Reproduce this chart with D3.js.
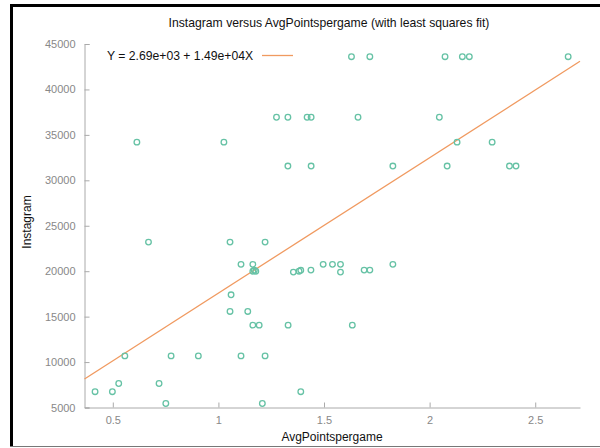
<!DOCTYPE html>
<html>
<head>
<meta charset="utf-8">
<script src="https://cdn.jsdelivr.net/npm/d3@7"></script>
<style>
  body { margin: 0; background: #fff; }
  svg { font-family: "Liberation Sans", Arial, sans-serif; }
  .axis path, .axis line { stroke: #aaa; }
  .axis text { fill: #888; font-size: 11px; }
</style>
</head>
<body>
<script>
// 資料：AvgPointspergame 與 Instagram
const avgPoints = [
  0.416, 0.498, 0.528, 0.557, 0.614, 0.669, 0.719, 0.751, 0.776, 0.905,
  1.026, 1.055, 1.055, 1.060, 1.107, 1.107, 1.139, 1.163, 1.163, 1.163,
  1.170, 1.177, 1.193, 1.208, 1.221, 1.221, 1.275, 1.329, 1.329, 1.330,
  1.355, 1.382, 1.390, 1.390, 1.420, 1.439, 1.439, 1.438, 1.496, 1.540,
  1.578, 1.578, 1.630, 1.634, 1.661, 1.690, 1.717, 1.717, 1.826, 1.826,
  2.046, 2.073, 2.083, 2.130, 2.155, 2.188, 2.296, 2.378, 2.409, 2.656
];
const instagram = [
  6740, 6740, 7640, 10680, 34200, 23200, 7640, 5440, 10680, 10680,
  34200, 23200, 15570, 17400, 20750, 10680, 15570, 20750, 14060, 20000,
  20100, 20000, 14060, 5440, 23200, 10680, 36940, 36940, 31570, 14060,
  19900, 20000, 20100, 6740, 36940, 36940, 31570, 20120, 20750, 20750,
  20750, 19900, 43600, 14060, 36940, 20120, 20120, 43600, 31570, 20750,
  36940, 43600, 31570, 34200, 43600, 43600, 34200, 31570, 31570, 43600
];

// 最小平方法係數
const fitA = 2.69e3, fitB = 1.49e4;
const fitLabel = "Y = 2.69e+03 + 1.49e+04X";

const xTicks = [0.5, 1, 1.5, 2, 2.5];
const yTicks = [5000, 10000, 15000, 20000, 25000, 30000, 35000, 40000, 45000];

const W = 600, H = 448;
const margin = { top: 44, right: 20, bottom: 41, left: 84.5 };
const width = 580 - margin.left, height = 407.5 - margin.top;

const svg = d3.select("body").append("svg")
  .attr("width", W).attr("height", H);

// 外框
svg.append("line").attr("x1", 10).attr("x2", W).attr("y1", 5.5).attr("y2", 5.5)
  .attr("stroke", "#000").attr("stroke-width", 3);
svg.append("line").attr("x1", 11.5).attr("x2", 11.5).attr("y1", 4).attr("y2", 446)
  .attr("stroke", "#000").attr("stroke-width", 3);
svg.append("line").attr("x1", 10).attr("x2", W).attr("y1", 446.5).attr("y2", 446.5)
  .attr("stroke", "#777").attr("stroke-width", 1);

const g = svg.append("g")
  .attr("transform", "translate(" + margin.left + "," + margin.top + ")");

const x = d3.scaleLinear().domain([0.366, 2.712]).range([0, width]);
const y = d3.scaleLinear().domain([5000, 45000]).range([height, 0]);

// 座標軸（刻度朝內）
g.append("g")
  .attr("class", "axis")
  .attr("transform", "translate(0," + height + ")")
  .call(d3.axisBottom(x).tickValues(xTicks).tickFormat(d3.format("")).tickSizeInner(-5).tickSizeOuter(0).tickPadding(9));
g.append("g")
  .attr("class", "axis")
  .call(d3.axisLeft(y).tickValues(yTicks).tickFormat(d3.format("d")).tickSizeInner(-5).tickSizeOuter(-5).tickPadding(9));

// 擬合線
const line = d3.line().x(d => x(d)).y(d => y(fitA + fitB * d));
g.append("path")
  .attr("d", line(x.domain()))
  .attr("fill", "none")
  .attr("stroke", "#f09a60")
  .attr("stroke-width", 1.3);

// 散點
g.selectAll("circle.pt")
  .data(avgPoints.map((v, i) => [v, instagram[i]]))
  .join("circle")
  .attr("class", "pt")
  .attr("cx", d => x(d[0]))
  .attr("cy", d => y(d[1]))
  .attr("r", 2.8)
  .attr("fill", "none")
  .attr("stroke", "#66c2a5")
  .attr("stroke-width", 1.3);

// 圖例
svg.append("text")
  .attr("x", 107).attr("y", 59.5)
  .attr("font-size", 12.2).attr("fill", "#111")
  .text(fitLabel);
svg.append("line")
  .attr("x1", 262).attr("x2", 293).attr("y1", 55.5).attr("y2", 55.5)
  .attr("stroke", "#f09a60").attr("stroke-width", 1.3);

// 標題與軸標籤
svg.append("text")
  .attr("x", 329).attr("y", 27)
  .attr("text-anchor", "middle").attr("font-size", 12.2).attr("fill", "#111")
  .text("Instagram versus AvgPointspergame (with least squares fit)");
svg.append("text")
  .attr("x", 332).attr("y", 441)
  .attr("text-anchor", "middle").attr("font-size", 12).attr("fill", "#111")
  .text("AvgPointspergame");
svg.append("text")
  .attr("transform", "translate(31,222) rotate(-90)")
  .attr("text-anchor", "middle").attr("font-size", 12).attr("fill", "#111")
  .text("Instagram");
</script>
</body>
</html>
